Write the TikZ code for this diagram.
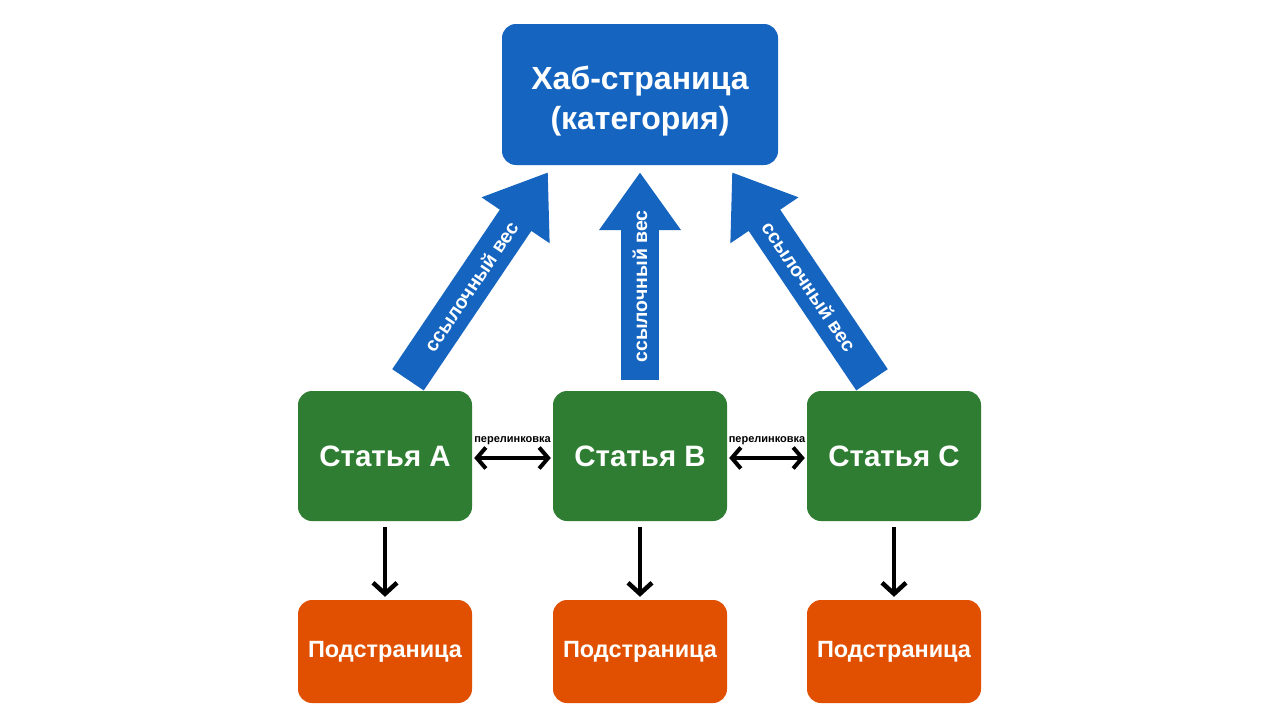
\documentclass[tikz,border=0pt]{standalone}
\usepackage{fontspec}
\setmainfont{Liberation Sans}
\usetikzlibrary{%
  arrows.meta
}
\definecolor{hubblue}{RGB}{21,101,192}
\definecolor{artgreen}{RGB}{46,125,50}
\definecolor{suborange}{RGB}{224,80,0}

\begin{document}
\begin{tikzpicture}[x=1pt,y=-1pt,
  box/.style={rounded corners=14pt, text=white, align=center, inner sep=0pt},
  hubbox/.style={box, fill=hubblue, minimum width=276pt, minimum height=141pt,
    text height=76pt, font=\fontsize{32}{40}\selectfont\bfseries},
  artbox/.style={box, fill=artgreen, minimum width=174pt, minimum height=130pt,
    font=\fontsize{29.5}{34}\selectfont\bfseries},
  subbox/.style={box, fill=suborange, minimum width=174pt, minimum height=103pt,
    font=\fontsize{23.5}{28}\selectfont\bfseries},
  weight/.style={draw=hubblue, line width=38pt, -{Triangle[length=58pt,width=78pt]}},
  weighttext/.style={pos=0.45, sloped, text=white, font=\fontsize{19.5}{22}\selectfont\bfseries},
  crosslink/.style={line width=4pt, {Straight Barb[length=9pt,width=21pt]}-{Straight Barb[length=9pt,width=21pt]}},
  linktext/.style={above=8pt, font=\fontsize{11}{13}\selectfont\bfseries},
  down/.style={line width=4.5pt, -{Straight Barb[length=11pt,width=24pt]}}
  ]

  \fill[white] (0,0) rectangle (1280,720);
  \useasboundingbox (0,0) rectangle (1280,720);

  \node[hubbox] (hub) at (640,94.5) {Хаб-страница\\(категория)};

  \node[artbox] (A) at (385,456) {Статья A};
  \node[artbox] (B) at (640,456) {Статья B};
  \node[artbox] (C) at (894,456) {Статья C};

  \node[subbox] (subA) at (385,651.5) {Подстраница};
  \node[subbox] (subB) at (640,651.5) {Подстраница};
  \node[subbox] (subC) at (894,651.5) {Подстраница};

  \draw[weight] ([xshift=23pt,yshift=11pt]A.north) -- ([xshift=-92pt,yshift=-7pt]hub.south)
    node[weighttext] {ссылочный вес};
  \draw[weight] ([yshift=11pt]B.north) -- ([yshift=-7pt]hub.south)
    node[weighttext] {ссылочный вес};
  \draw[weight] ([xshift=-22pt,yshift=11pt]C.north) -- ([xshift=92pt,yshift=-7pt]hub.south)
    node[weighttext] {ссылочный вес};

  \draw[crosslink] ([xshift=2pt,yshift=-2pt]A.east) -- node[linktext] {перелинковка} ([xshift=-2pt,yshift=-2pt]B.west);
  \draw[crosslink] ([xshift=2pt,yshift=-2pt]B.east) -- node[linktext] {перелинковка} ([xshift=-2pt,yshift=-2pt]C.west);

  \draw[down] ([yshift=-6pt]A.south) -- ([yshift=3pt]subA.north);
  \draw[down] ([yshift=-6pt]B.south) -- ([yshift=3pt]subB.north);
  \draw[down] ([yshift=-6pt]C.south) -- ([yshift=3pt]subC.north);
\end{tikzpicture}
\end{document}
